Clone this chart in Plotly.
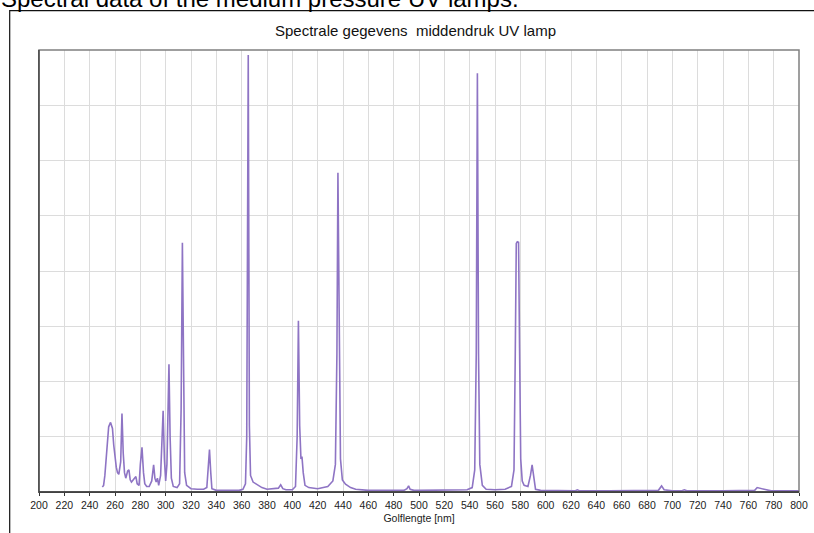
import plotly.graph_objects as go

# Wavelength [nm] and relative intensity
wavelength = [
    250, 251, 252, 253, 254, 255, 256.5, 258, 259, 260, 261, 262, 263, 264.5, 265.5, 266.5,
    267.5, 268.5, 270, 271, 272, 273, 275, 276.5, 277.5, 279, 280, 281.3, 282.5, 283.5,
    285, 287, 289, 290.5, 291.5, 292.5, 293.5, 294.5, 296, 297.3, 298, 299, 300, 301,
    302, 302.6, 303.5, 304.5, 306, 309, 311, 312.2, 313.2, 314.2, 315, 316.5, 320, 325,
    330, 332.5, 333.6, 334.6, 335.6, 336.5, 340, 350, 358, 361, 363, 364, 365.2, 366.1,
    367, 369, 372, 376, 380, 385, 389, 390.8, 392.5, 395, 400, 402.5, 403.8, 404.8,
    405.8, 406.8, 407.6, 408.6, 410, 413, 420, 428, 432, 434, 435.2, 436, 436.9, 438,
    439.5, 442, 446, 450, 460, 470, 480, 488, 490.5, 491.8, 493, 496, 500, 510, 520,
    530, 538, 542, 544, 545.2, 546.1, 547, 548, 550, 553, 560, 568, 573, 575, 576,
    576.8, 577.6, 578.6, 579.4, 580.3, 581.5, 583, 586, 588, 589.3, 590.5, 592, 596,
    610, 623, 625, 627, 650, 672, 676, 680, 689, 691.5, 693.5, 700, 707, 709.5, 712,
    740, 760, 765, 767, 769, 771, 773, 778, 790, 800,
]
intensity = [
    0.09, 0.12, 0.30, 0.60, 0.95, 1.18, 1.26, 1.15, 0.85, 0.60, 0.45, 0.35, 0.32, 0.55, 1.42, 0.70,
    0.35, 0.25, 0.38, 0.40, 0.22, 0.18, 0.25, 0.28, 0.15, 0.12, 0.50, 0.81, 0.35, 0.15,
    0.10, 0.10, 0.20, 0.49, 0.25, 0.18, 0.25, 0.12, 0.30, 1.05, 1.47, 0.60, 0.20, 0.50,
    1.60, 2.31, 1.00, 0.25, 0.10, 0.08, 0.15, 1.50, 4.51, 1.80, 0.35, 0.12, 0.06, 0.05,
    0.05, 0.08, 0.40, 0.77, 0.35, 0.06, 0.03, 0.03, 0.03, 0.05, 0.15, 1.00, 7.91, 1.20,
    0.30, 0.18, 0.13, 0.08, 0.05, 0.06, 0.07, 0.13, 0.06, 0.04, 0.04, 0.10, 1.00, 3.10,
    1.20, 0.60, 0.64, 0.35, 0.12, 0.08, 0.06, 0.10, 0.20, 0.50, 2.50, 5.78, 3.00, 0.60,
    0.22, 0.14, 0.08, 0.05, 0.03, 0.03, 0.03, 0.03, 0.06, 0.11, 0.05, 0.03, 0.03, 0.03, 0.03,
    0.03, 0.04, 0.08, 0.40, 2.50, 7.58, 2.50, 0.50, 0.12, 0.05, 0.04, 0.05, 0.10, 0.40, 2.50,
    4.50, 4.53, 4.52, 2.60, 0.60, 0.20, 0.12, 0.10, 0.30, 0.49, 0.25, 0.05, 0.03,
    0.02, 0.02, 0.04, 0.02, 0.02, 0.02, 0.03, 0.02, 0.03, 0.11, 0.04, 0.02, 0.02, 0.04, 0.02,
    0.02, 0.02, 0.03, 0.08, 0.07, 0.06, 0.04, 0.02, 0.02, 0.02,
]

x_ticks = list(range(200, 801, 20))

FONT = "Liberation Sans, Arial, sans-serif"

fig = go.Figure()
fig.add_trace(go.Scatter(
    x=wavelength, y=intensity, mode="lines",
    line=dict(color="#8e74c4", width=1.6),
    hoverinfo="x+y", showlegend=False,
))

L, R, T, B = 39, 15, 50, 41
W, H = 814, 533
pw, ph = W - L - R, H - T - B


def px_x(p):
    return (p - L) / pw


def px_y(p):
    return (H - B - p) / ph


fig.update_layout(
    width=W, height=H,
    margin=dict(l=L, r=R, t=T, b=B, pad=0),
    paper_bgcolor="white", plot_bgcolor="white",
    font=dict(family=FONT, color="#222222"),
    xaxis=dict(
        range=[200, 800], tickvals=x_ticks, ticktext=[str(v) for v in x_ticks],
        showgrid=True, gridcolor="#dcdcdc", gridwidth=1,
        showline=True, linecolor="#333333", linewidth=1.2,
        ticks="outside", ticklen=3, tickcolor="#333333",
        tickfont=dict(size=10.5, color="#222222"),
        title=dict(text="Golflengte [nm]", font=dict(size=10.5, color="#222222"), standoff=4),
        zeroline=False, fixedrange=True, automargin=False,
    ),
    yaxis=dict(
        range=[0, 8], dtick=1, showticklabels=False,
        showgrid=True, gridcolor="#dcdcdc", gridwidth=1,
        showline=True, linecolor="#333333", linewidth=1.2,
        ticks="", zeroline=False, fixedrange=True, automargin=False,
    ),
    shapes=[
        # plot frame (top/right in gray)
        dict(type="rect", xref="paper", yref="paper", x0=0, x1=1, y0=0, y1=1,
             line=dict(color="#808080", width=1.5), layer="above"),
        # outer chart box
        dict(type="rect", xref="paper", yref="paper",
             x0=px_x(9.7), x1=px_x(830), y0=px_y(10.7), y1=px_y(560),
             line=dict(color="#111111", width=1.2), layer="below"),
    ],
    annotations=[
        dict(text="Spectral data of the medium pressure UV lamps.", xref="paper", yref="paper",
             x=px_x(-1), y=px_y(13.5), xanchor="left", yanchor="bottom", showarrow=False,
             font=dict(family=FONT, size=24, color="#000000")),
        dict(text="Spectrale gegevens  middendruk UV lamp", xref="paper", yref="paper",
             x=px_x(415), y=px_y(30.5), xanchor="center", yanchor="middle", showarrow=False,
             font=dict(family=FONT, size=15, color="#111111")),
    ],
)

# redraw the bottom and left axis lines in dark on top of the gray frame
fig.add_shape(type="line", xref="paper", yref="paper", x0=0, x1=1, y0=0, y1=0,
              line=dict(color="#333333", width=1.5), layer="above")
fig.add_shape(type="line", xref="paper", yref="paper", x0=0, x1=0, y0=0, y1=1,
              line=dict(color="#444444", width=1.2), layer="above")

fig.write_html(
    "out.html",
    config={"displayModeBar": False, "staticPlot": False},
    post_script="document.body.style.margin='0';document.body.style.padding='0';"
                "document.body.style.overflow='hidden';",
)
